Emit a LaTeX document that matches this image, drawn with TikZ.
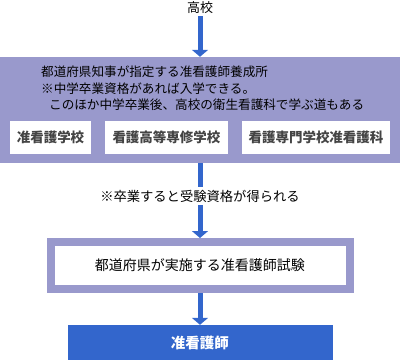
\documentclass[tikz,border=0pt]{standalone}
\usepackage{fontspec}
\setmainfont{Noto Sans CJK JP}
\usetikzlibrary{arrows.meta}
\definecolor{panelpurple}{HTML}{9999CC}
\definecolor{flowblue}{HTML}{3366CC}
\definecolor{boxgray}{HTML}{444444}

\begin{document}
\begin{tikzpicture}[x=1pt,y=-1pt,
  arrow/.style={flowblue,line width=5pt,-{Triangle[length=7pt,width=16pt]}},
  panel/.style={fill=panelpurple,inner sep=0pt,minimum width=400pt,minimum height=106pt},
  schoolbox/.style={fill=white,inner sep=0pt,minimum height=33pt,text=boxgray,font=\fontsize{13.5}{16}\bfseries},
  label/.style={inner sep=2pt,font=\fontsize{12.6}{15}\selectfont},
  note/.style={fill=white,inner sep=3pt,font=\fontsize{13.3}{16}\selectfont},
  exambox/.style={draw=panelpurple,fill=white,line width=8pt,outer sep=4pt,inner sep=0pt,minimum width=299pt,minimum height=47pt,font=\fontsize{14}{16}\selectfont},
  resultbox/.style={fill=flowblue,inner sep=0pt,minimum width=265pt,minimum height=35pt,text=white,font=\fontsize{14.5}{16}\bfseries}
]
\useasboundingbox (0,0) rectangle (400,360);

% entrance
\node[label,font=\fontsize{13}{15}\selectfont] (school) at (200,8) {高校};

% training institutions designated by the prefectural governor
\node[panel] (panel) at (200,110) {};
\node[label,anchor=west] (panela) at (39,72) {都道府県知事が指定する准看護師養成所};
\node[label,anchor=west] (panelb) at (39,89) {※中学卒業資格があれば入学できる。};
\node[label,anchor=west] (panelc) at (47,105) {このほか中学卒業後、高校の衛生看護科で学ぶ道もある};
\node[schoolbox,minimum width=81pt] (juncourse) at (50.5,137.5) {准看護学校};
\node[schoolbox,minimum width=123pt] (highcourse) at (166.5,137.5) {看護高等専修学校};
\node[schoolbox,minimum width=148pt] (specialcourse) at (316,137.5) {看護専門学校准看護科};

% exam and qualification
\node[exambox] (exam) at (200,265.5) {都道府県が実施する准看護師試験};
\node[resultbox] (nurse) at (200,342.5) {准看護師};

\draw[arrow] (school.south) -- (panel.north);
\draw[arrow] (panel.south) -- (exam.north);
\draw[arrow] (exam.south) -- (nurse.north);
\node[note] (examnote) at (200,196) {※卒業すると受験資格が得られる};
\end{tikzpicture}
\end{document}
